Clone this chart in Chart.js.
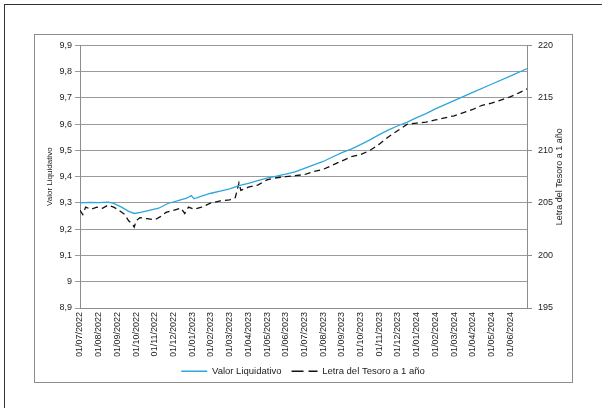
<!DOCTYPE html>
<html>
<head>
<meta charset="utf-8">
<script src="https://cdn.jsdelivr.net/npm/chart.js@4"></script>
<style>
  body { margin: 0; background: #fff; width: 602px; height: 408px; overflow: hidden; position: relative; }
  #outer { position: absolute; left: 4px; top: 4px; width: 700px; height: 500px; border-left: 1px solid #333; border-top: 1px solid #333; }
  #frame { position: absolute; left: 34px; top: 34px; width: 537px; height: 347px; border: 1px solid #8c8c8c; }
  #chart { position: absolute; left: 34px; top: 34px; }
</style>
</head>
<body>
<div id="outer"></div>
<div id="frame"></div>
<canvas id="chart" width="538" height="352"></canvas>
<script>
// month labels on the x axis (one per month)
const tickLabels = [
  '01/07/2022', '01/08/2022', '01/09/2022', '01/10/2022', '01/11/2022', '01/12/2022',
  '01/01/2023', '01/02/2023', '01/03/2023', '01/04/2023', '01/05/2023', '01/06/2023',
  '01/07/2023', '01/08/2023', '01/09/2023', '01/10/2023', '01/11/2023', '01/12/2023',
  '01/01/2024', '01/02/2024', '01/03/2024', '01/04/2024', '01/05/2024', '01/06/2024'
];

// Valor Liquidativo (left axis), x = months since 01/07/2022
const vlMonths = [0, 0.5, 1, 1.5, 1.8, 2.2, 2.6, 2.9, 3.3, 3.7, 4.2, 4.7, 5.2, 5.7, 5.95, 6.1, 6.5, 7, 7.5, 8, 8.5, 9,
  9.5, 10, 10.5, 11, 11.5, 12, 12.5, 13, 13.5, 14, 14.5, 15, 15.5, 16, 16.5, 17, 17.5, 18, 18.5, 19, 20, 21, 22, 23, 23.95];
const vlValues = [9.300, 9.302, 9.301, 9.303, 9.298, 9.285, 9.268, 9.260, 9.265, 9.272, 9.280, 9.298, 9.308, 9.318, 9.328,
  9.316, 9.326, 9.337, 9.345, 9.354, 9.366, 9.375, 9.385, 9.395, 9.402, 9.410, 9.418, 9.432, 9.445, 9.458, 9.475, 9.492,
  9.505, 9.522, 9.540, 9.560, 9.578, 9.594, 9.608, 9.625, 9.640, 9.658, 9.690, 9.721, 9.752, 9.783, 9.813];

// Letra del Tesoro a 1 año (right axis)
const letraMonths = [0, 0.15, 0.3, 0.6, 0.9, 1.2, 1.5, 1.8, 2.0, 2.4, 2.6, 2.8, 2.9, 3.0, 3.2, 3.6, 4.0, 4.3, 4.6, 5.0,
  5.4, 5.6, 5.8, 6.1, 6.5, 7.0, 7.5, 8.0, 8.3, 8.5, 8.6, 9.0, 9.5, 10.0, 10.5, 11.0, 11.5, 12.0, 12.5, 13.0, 13.5, 14.0,
  14.5, 15.0, 15.5, 16.0, 16.5, 17.0, 17.5, 18.0, 18.5, 19.0, 19.5, 20.0, 20.5, 21.0, 21.5, 22.0, 22.5, 23.0, 23.5, 23.95];
const letraValues = [204.3, 203.9, 204.6, 204.4, 204.6, 204.5, 204.8, 204.6, 204.4, 203.9, 203.3, 203.0, 202.7, 203.3,
  203.6, 203.5, 203.4, 203.7, 204.1, 204.3, 204.5, 204.0, 204.6, 204.4, 204.6, 205.0, 205.2, 205.3, 205.5, 206.9, 206.2,
  206.5, 206.7, 207.2, 207.4, 207.5, 207.6, 207.7, 208.0, 208.2, 208.6, 209.0, 209.4, 209.6, 210.0, 210.6, 211.3, 211.9,
  212.5, 212.6, 212.7, 212.9, 213.1, 213.3, 213.6, 213.9, 214.3, 214.5, 214.8, 215.1, 215.5, 215.9];

const font = 'Liberation Sans, Arial, sans-serif';
const toPoints = (xs, ys) => xs.map((x, i) => ({ x: x, y: ys[i] }));

// right axis title reads bottom-to-top like the left one
const rightTitle = {
  id: 'rightTitle',
  afterDraw(chart) {
    const ctx = chart.ctx;
    const area = chart.chartArea;
    ctx.save();
    ctx.translate(526, (area.top + area.bottom) / 2);
    ctx.rotate(-Math.PI / 2);
    ctx.font = '9px ' + font;
    ctx.fillStyle = '#222';
    ctx.textAlign = 'center';
    ctx.textBaseline = 'middle';
    ctx.fillText('Letra del Tesoro a 1 año', 0, 0);
    ctx.restore();
  }
};

new Chart(document.getElementById('chart'), {
  type: 'line',
  data: {
    datasets: [
      {
        label: 'Valor Liquidativo',
        data: toPoints(vlMonths, vlValues),
        yAxisID: 'y',
        borderColor: '#2ea6dc',
        backgroundColor: '#2ea6dc',
        borderWidth: 1.3,
        pointRadius: 0,
        tension: 0
      },
      {
        label: 'Letra del Tesoro a 1 año',
        data: toPoints(letraMonths, letraValues),
        yAxisID: 'y1',
        borderColor: '#111',
        backgroundColor: '#111',
        borderWidth: 1.3,
        borderDash: [6, 4],
        pointRadius: 0,
        tension: 0
      }
    ]
  },
  options: {
    responsive: false,
    animation: false,
    layout: { padding: { top: 8, left: 0, right: 0, bottom: 0 } },
    scales: {
      x: {
        type: 'linear',
        min: 0,
        max: 23.9,
        afterBuildTicks: s => { s.ticks = tickLabels.map((_, i) => ({ value: i })); },
        afterFit: s => { s.height = 48.5; },
        grid: { drawOnChartArea: false, drawTicks: false },
        border: { color: '#8c8c8c' },
        ticks: {
          autoSkip: false,
          minRotation: 90,
          maxRotation: 90,
          padding: 4,
          color: '#222',
          font: { family: font, size: 9 },
          callback: v => tickLabels[v]
        }
      },
      y: {
        position: 'left',
        min: 8.9,
        max: 9.9,
        afterFit: s => { s.width = 46; },
        grid: { color: '#9a9a9a', tickLength: 5 },
        border: { color: '#8c8c8c' },
        title: { display: true, text: 'Valor Liquidativo', color: '#222', font: { family: font, size: 8 }, padding: { top: 11 } },
        ticks: {
          stepSize: 0.1,
          padding: 3,
          color: '#222',
          font: { family: font, size: 9 },
          callback: v => {
            const s = (Math.round(v * 10) / 10).toFixed(1);
            return s.endsWith('.0') ? s.slice(0, -2) : s.replace('.', ',');
          }
        }
      },
      y1: {
        position: 'right',
        min: 195,
        max: 220,
        afterFit: s => { s.width = 45; },
        grid: { drawOnChartArea: false, tickLength: 5, color: '#8c8c8c' },
        border: { color: '#8c8c8c' },
        ticks: { stepSize: 5, padding: 6, color: '#222', font: { family: font, size: 9 } }
      }
    },
    plugins: {
      legend: {
        position: 'bottom',
        labels: {
          usePointStyle: true,
          pointStyle: 'line',
          pointStyleWidth: 26,
          padding: 10,
          color: '#222',
          font: { family: font, size: 9.5 },
          generateLabels: chart => {
            const items = Chart.defaults.plugins.legend.labels.generateLabels(chart);
            items[1].lineDash = [12, 5];
            return items;
          }
        }
      },
      tooltip: { enabled: false }
    }
  },
  plugins: [rightTitle]
});
</script>
</body>
</html>
